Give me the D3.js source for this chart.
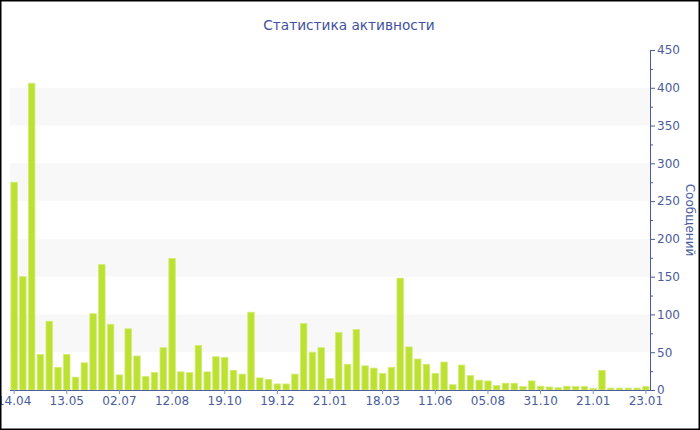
<!DOCTYPE html>
<html>
<head>
<meta charset="utf-8">
<script src="https://cdn.jsdelivr.net/npm/d3@7"></script>
<style>
html,body{margin:0;padding:0;background:#fff;}
svg{display:block;font-family:"DejaVu Sans",Verdana,sans-serif;}
</style>
</head>
<body>
<svg id="chart" width="700" height="430"></svg>
<script>
const title = "Статистика активности";
const yTitle = "Сообщений";
const values = [275,150,406,47,91,30,47,17,36,101,166,87,20,81,45,18,23,56,174,24,23,59,24,44,43,26,21,103,16,14,8,8,21,88,50,56,15,76,34,80,32,29,22,30,148,57,41,34,22,37,7,33,19,13,12,6,9,9,4.5,12,5,4,3,5,4.5,4.5,2,26,2.5,2.5,2.5,2.5,4.5];
const tickIndex = [0,6,12,18,24,30,36,42,48,54,60,66,72];
const tickLabels = ["14.04","13.05","02.07","12.08","19.10","19.12","21.01","18.03","11.06","05.08","31.10","21.01","23.01"];
const yTicks = [0,50,100,150,200,250,300,350,400,450];
const yMinor = [25,75,125,175,225,275,325,375,425];
const bands = [[50,100],[150,200],[250,300],[350,400]];

const svg = d3.select("#chart");
const W = 700, H = 430;
const mLeft = 10, mRight = 650, mTop = 50, mBottom = 390;
const axisColor = "#4a5c9e";

const x = d3.scaleBand().domain(d3.range(values.length)).range([mLeft, mRight]).paddingInner(0.26).paddingOuter(0.1);
const y = d3.scaleLinear().domain([0, 450]).range([mBottom, mTop]);

// alternating bands
svg.append("g").selectAll("rect").data(bands).join("rect")
  .attr("x", mLeft).attr("width", mRight - mLeft)
  .attr("y", d => y(d[1])).attr("height", d => y(d[0]) - y(d[1]))
  .attr("fill", "#f8f8f8");

// bars
svg.append("g").selectAll("rect").data(values).join("rect")
  .attr("x", (d, i) => x(i)).attr("width", x.bandwidth())
  .attr("y", d => y(d)).attr("height", d => mBottom - y(d))
  .attr("fill", "#bde132").attr("stroke", "#d3ec72").attr("stroke-width", 0.8);

// x axis
const xAxis = d3.axisBottom(x).tickValues(tickIndex).tickFormat((d, i) => tickLabels[i]).tickSize(4).tickSizeOuter(0);
const gx = svg.append("g").attr("transform", `translate(0,${mBottom})`).call(xAxis);
gx.select(".domain").attr("stroke", axisColor).attr("d", `M${mLeft},0.5H${mRight}`);
gx.selectAll(".tick line").attr("stroke", "#8a93b8");
gx.selectAll(".tick text").attr("fill", axisColor).attr("font-size", 12).attr("font-family", "DejaVu Sans").attr("dy", "0.85em").attr("y", 5);

// y axis right
const yAxis = d3.axisRight(y).tickValues(yTicks).tickSize(5).tickSizeOuter(0).tickPadding(2);
const gy = svg.append("g").attr("transform", `translate(${mRight},0)`).call(yAxis);
gy.select(".domain").attr("stroke", axisColor);
gy.selectAll(".tick line").attr("stroke", axisColor);
gy.selectAll(".tick text").attr("fill", axisColor).attr("font-size", 12).attr("font-family", "DejaVu Sans");
gy.append("g").selectAll("line").data(yMinor).join("line")
  .attr("x1", 0).attr("x2", 3).attr("y1", d => y(d) + 0.5).attr("y2", d => y(d) + 0.5)
  .attr("stroke", axisColor);

// y title
svg.append("text")
  .attr("transform", `translate(686,${(mTop + mBottom) / 2}) rotate(90)`)
  .attr("text-anchor", "middle")
  .attr("fill", axisColor).attr("font-size", 12)
  .text(yTitle);

// title
svg.append("text")
  .attr("x", 349).attr("y", 30)
  .attr("text-anchor", "middle")
  .attr("fill", "#3f51a0").attr("font-size", 13.7)
  .text(title);

// border
svg.append("rect").attr("x", 0.75).attr("y", 0.75).attr("width", W - 1.5).attr("height", H - 1.5)
  .attr("fill", "none").attr("stroke", "#000").attr("stroke-width", 1.5);
</script>
</body>
</html>
